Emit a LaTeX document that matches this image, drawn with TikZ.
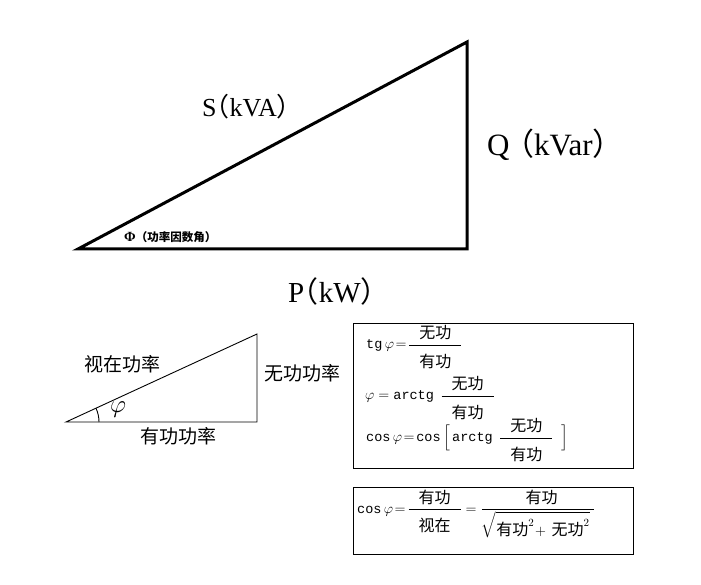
\documentclass[tikz,border=0pt]{standalone}
\usepackage{amsmath}
\usepackage{fontspec}
\setmainfont{Liberation Serif}
\newfontfamily\cjk{Noto Sans CJK SC}
\newfontfamily\cjkhalf[RawFeature=+halt]{Noto Sans CJK SC}
\newfontfamily\sunmono{Liberation Mono}
\newcommand{\zh}[1]{\mbox{\cjk\fontsize{16}{18}\selectfont #1}}
\newcommand{\zhn}[1]{\mbox{\cjk\fontsize{16}{18}\selectfont\rule[-1.5pt]{0pt}{1.5pt}#1}}
\newcommand{\zhd}[1]{\mbox{\cjk\fontsize{16}{18}\selectfont\rule{0pt}{20pt}#1}}
\newcommand{\fr}[2]{\dfrac{\hskip10pt\zhn{#1}\hskip10pt}{\zhd{#2}}}
\newcommand{\hp}[1]{{\cjkhalf #1}}
\newcommand{\fn}[1]{\mathop{\mbox{\sunmono\fontsize{13.5}{15}\selectfont #1}}\nolimits}
\newcommand{\eq}{\!=\!}

\begin{document}
\begin{tikzpicture}[x=1pt,y=-1pt]
\tikzstyle{heavy}=[line width=3pt,line join=miter]
\tikzstyle{lite}=[line width=0.9pt]
\tikzstyle{frame}=[line width=1pt]
\tikzstyle{biglabel}=[inner sep=0pt,anchor=west]
\tikzstyle{zhlabel}=[inner sep=0pt,font=\cjk\fontsize{19}{22}\selectfont]
\tikzstyle{formula}=[inner sep=0pt,anchor=west,font=\fontsize{15}{17}\selectfont]
\useasboundingbox[fill=white] (0,0) rectangle (701,585);
\coordinate (O) at (78,249);
\coordinate (B) at (467,249);
\coordinate (T) at (467,42);
\draw[heavy] (O) -- (T) -- (B) -- cycle;
\node[biglabel,font=\fontsize{26}{30}\selectfont] (S) at (202,107) {S\hp{（}kVA\hp{）}};
\node[biglabel,font=\fontsize{31}{34}\selectfont] (Q) at (487,145) {Q\hspace{9pt}\hp{（}kVar\hp{）}};
\node[biglabel,font=\fontsize{29}{32}\selectfont] (P) at (288,291) {P\hp{（}kW\hp{）}};
\node[inner sep=0pt,anchor=west] (angle) at (124,237) {\bfseries\fontsize{14}{16}\selectfont Φ\cjk\fontsize{11.5}{12}\selectfont（功率因数角）};
\coordinate (o) at (66,422);
\coordinate (b) at (257,422);
\coordinate (t) at (257,334);
\draw[lite] (o) -- (t) -- (b) -- cycle;
\draw[lite] (o) ++(33,0) arc[start angle=0,end angle=-24.7,radius=33];
\node[zhlabel] (s) at (122,364) {视在功率};
\node[zhlabel] (q) at (302,373) {无功功率};
\node[zhlabel] (p) at (178,436) {有功功率};
\node[inner sep=0pt,font=\fontsize{27}{30}\selectfont] (phi) at (118,410) {$\varphi$};
\draw[frame] (353,323) rectangle (633,468);
\draw[frame] (353,487) rectangle (633,554);
\node[formula] (f1) at (366,347) {$\fn{tg}\varphi\eq\fr{无功}{有功}$};
\node[formula] (f2) at (365,398) {$\varphi = \fn{arctg}\;\fr{无功}{有功}$};
\node[formula] (f3) at (366,440) {$\fn{cos}\varphi\eq\fn{cos}\Big[\fn{arctg}\;\fr{无功}{有功}\;\;\Big]$};
\node[formula] (f4) at (357,514) {$\fn{cos}\varphi\eq\fr{有功}{视在}=\dfrac{\hskip8pt\zhn{有功}}{\sqrt{\rule[-2pt]{0pt}{23pt}\zh{有功}^2\!+\,\zh{无功}^2}\hskip4pt}$};
\end{tikzpicture}
\end{document}
